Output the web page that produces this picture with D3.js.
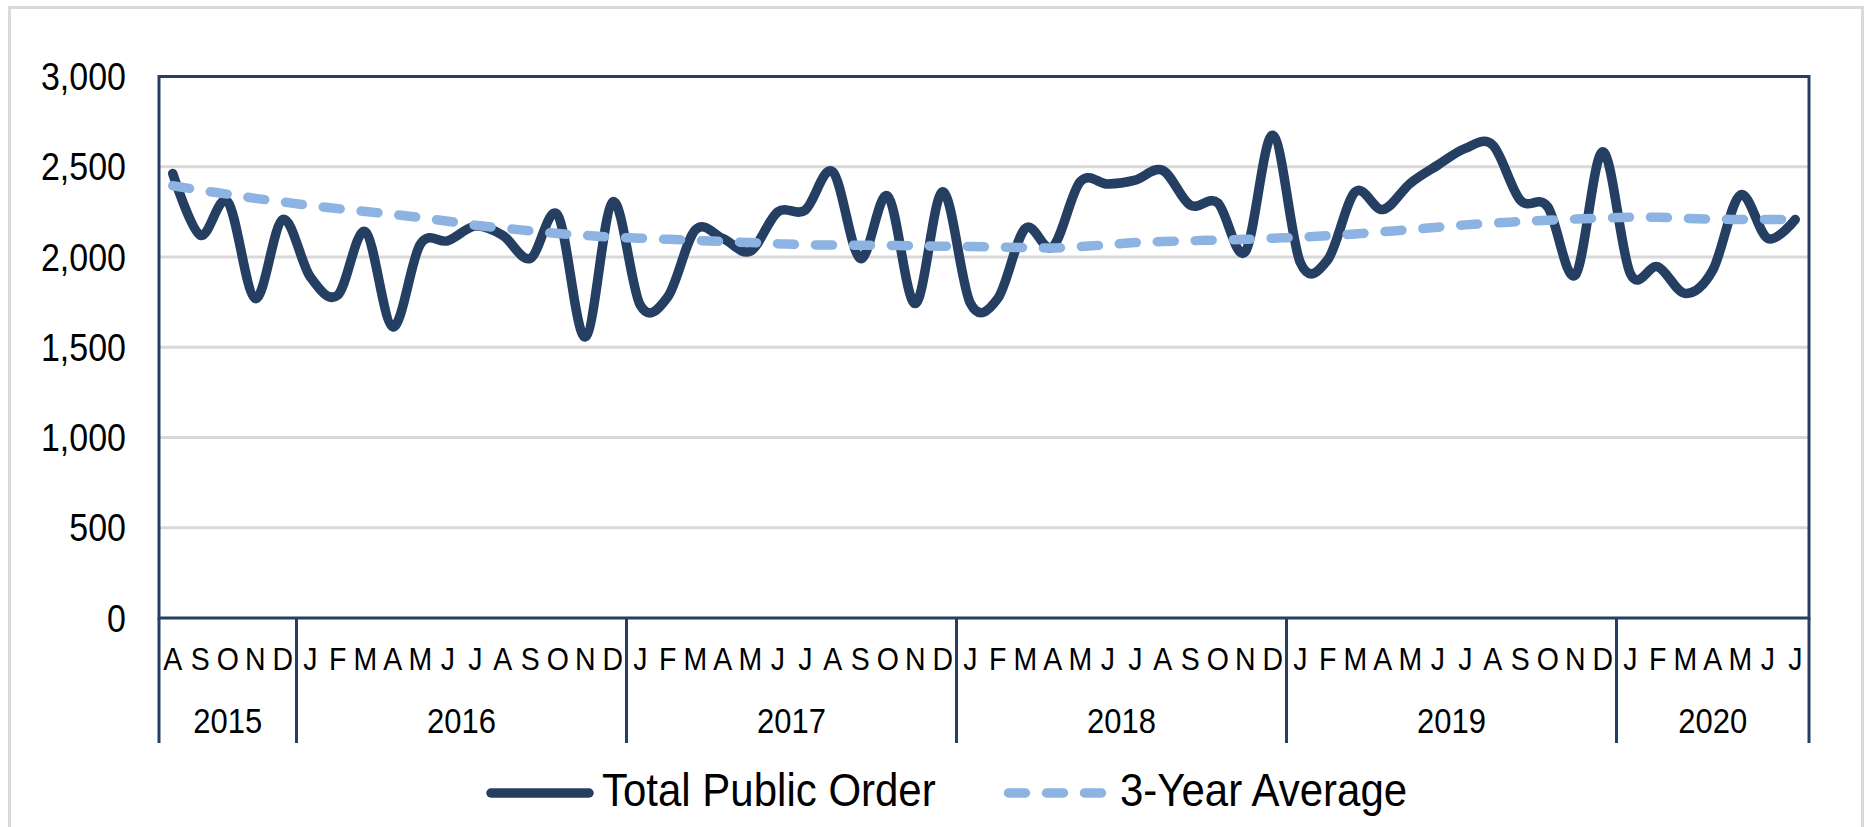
<!DOCTYPE html>
<html><head><meta charset="utf-8">
<script src="https://cdn.jsdelivr.net/npm/d3@7"></script>
<style>
body{margin:0;background:#fff;}
text{font-family:"Liberation Sans",Arial,sans-serif;fill:#000;}
</style>
</head><body>
<svg id="c" width="1866" height="827"></svg>
<script>
// ---- data ----
const monthLabels = [
  "A","S","O","N","D",
  "J","F","M","A","M","J","J","A","S","O","N","D",
  "J","F","M","A","M","J","J","A","S","O","N","D",
  "J","F","M","A","M","J","J","A","S","O","N","D",
  "J","F","M","A","M","J","J","A","S","O","N","D",
  "J","F","M","A","M","J","J"
];
const years = ["2015","2016","2017","2018","2019","2020"];
const yearMonthCounts = [5,12,12,12,12,7];
const totalPublicOrder = [
  2463,2121,2306,1770,2208,
  1890,1789,2140,1613,2070,2090,2171,2120,1992,2232,1557,2306,
  1733,1779,2149,2103,2032,2250,2260,2472,1992,2337,1742,2361,
  1745,1770,2158,2056,2417,2404,2426,2480,2287,2300,2029,2675,
  1970,1985,2361,2263,2408,2509,2602,2620,2315,2278,1899,2583,
  1909,1946,1798,1927,2343,2103,2208
];
const threeYearAverage = [
  2395,2370,2348,2325,2305,
  2285,2268,2252,2236,2218,2198,2176,2160,2145,2130,2120,2110,
  2104,2098,2092,2086,2080,2074,2068,2066,2065,2064,2062,2060,
  2058,2055,2052,2050,2058,2068,2080,2086,2090,2094,2098,2104,
  2110,2118,2128,2140,2152,2165,2178,2188,2196,2204,2210,2216,
  2220,2220,2214,2210,2208,2208,2208
];
const yTicks = [0,500,1000,1500,2000,2500,3000];
const seriesNames = ["Total Public Order","3-Year Average"];

// ---- layout ----
const NAVY = "#253f62", LIGHT = "#8db3e2", GRID = "#d9d9d9";
const plot = {left:159, right:1809, top:76.5, bottom:618};
const SY = 1.12; // vertical stretch of text in the reference
const svg = d3.select("#c");

const x = d3.scaleBand().domain(d3.range(monthLabels.length)).range([plot.left, plot.right]).padding(0);
const cx = i => x(i) + x.bandwidth()/2;
const y = d3.scaleLinear().domain([0,3000]).range([plot.bottom, plot.top]);

// outer chart border
svg.append("rect").attr("x",9.5).attr("y",7.5).attr("width",1853).attr("height",860)
  .attr("fill","none").attr("stroke",GRID).attr("stroke-width",3);

// gridlines
svg.append("g").selectAll("line").data(yTicks.filter(t => t>0 && t<3000)).join("line")
  .attr("x1",plot.left).attr("x2",plot.right)
  .attr("y1",d=>y(d)).attr("y2",d=>y(d))
  .attr("stroke",GRID).attr("stroke-width",3);

// y labels
const yfs = 34;
svg.append("g").selectAll("text").data(yTicks).join("text")
  .attr("text-anchor","end").attr("font-size",yfs)
  .attr("transform",d=>`translate(126,${y(d)+0.716*yfs*SY/2}) scale(1,${SY})`)
  .text(d=>d3.format(",")(d));

// year boundaries
const bounds = [0];
yearMonthCounts.forEach(c => bounds.push(bounds[bounds.length-1]+c));
const bx = k => k >= monthLabels.length ? plot.right : x(k);
svg.append("g").selectAll("line").data(bounds).join("line")
  .attr("x1",d=>bx(d)).attr("x2",d=>bx(d))
  .attr("y1",plot.bottom).attr("y2",743)
  .attr("stroke",NAVY).attr("stroke-width",3);

// month labels
const mfs = 28.5;
svg.append("g").selectAll("text").data(monthLabels).join("text")
  .attr("text-anchor","middle").attr("font-size",mfs)
  .attr("transform",(d,i)=>`translate(${cx(i)},670) scale(1,${SY})`)
  .text(d=>d);

// year labels
const yrfs = 31;
svg.append("g").selectAll("text").data(years).join("text")
  .attr("text-anchor","middle").attr("font-size",yrfs)
  .attr("transform",(d,i)=>`translate(${(bx(bounds[i])+bx(bounds[i+1]))/2},733) scale(1,${SY})`)
  .text(d=>d);

// plot frame
svg.append("rect").attr("x",plot.left).attr("y",plot.top)
  .attr("width",plot.right-plot.left).attr("height",plot.bottom-plot.top)
  .attr("fill","none").attr("stroke",NAVY).attr("stroke-width",3);

// lines
const line = d3.line().x((d,i)=>cx(i)).y(d=>y(d)).curve(d3.curveCardinal.tension(0));
svg.append("path").datum(totalPublicOrder).attr("d",line)
  .attr("fill","none").attr("stroke",NAVY).attr("stroke-width",9.5)
  .attr("stroke-linejoin","round").attr("stroke-linecap","round");
svg.append("path").datum(threeYearAverage).attr("d",line)
  .attr("fill","none").attr("stroke",LIGHT).attr("stroke-width",9.5)
  .attr("stroke-dasharray","17,21").attr("stroke-linecap","round");

// legend
const lfs = 42;
const lg = svg.append("g");
lg.append("line").attr("x1",491).attr("x2",589).attr("y1",793).attr("y2",793)
  .attr("stroke",NAVY).attr("stroke-width",9.5).attr("stroke-linecap","round");
lg.append("text").attr("font-size",lfs).attr("transform",`translate(602,806) scale(1,${SY})`).text(seriesNames[0]);
lg.append("line").attr("x1",1008.5).attr("x2",1102.5).attr("y1",793).attr("y2",793)
  .attr("stroke",LIGHT).attr("stroke-width",9.5).attr("stroke-dasharray","17,21").attr("stroke-linecap","round");
lg.append("text").attr("font-size",lfs).attr("transform",`translate(1120,806) scale(1,${SY})`).text(seriesNames[1]);
</script>
</body></html>
